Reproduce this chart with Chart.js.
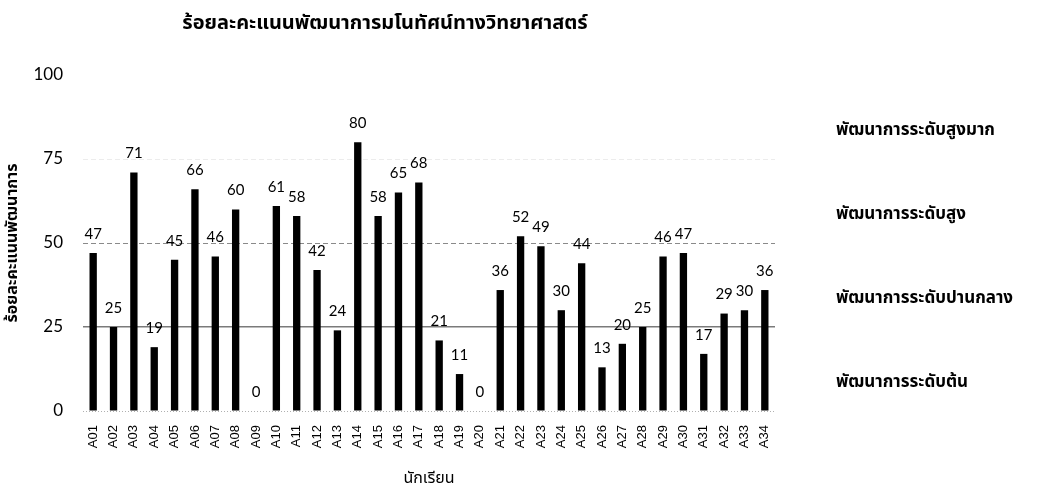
<!DOCTYPE html>
<html>
<head>
<meta charset="utf-8">
<script src="https://cdn.jsdelivr.net/npm/chart.js@4.4.1/dist/chart.umd.min.js"></script>
<style>
  html, body { margin: 0; padding: 0; background: #ffffff; }
  #wrap { width: 1043px; height: 490px; }
</style>
</head>
<body>
<div id="wrap"><canvas id="c" width="1043" height="490"></canvas></div>
<script>
// Students and their development scores (percent)
const students = ['A01','A02','A03','A04','A05','A06','A07','A08','A09','A10',
  'A11','A12','A13','A14','A15','A16','A17','A18','A19','A20',
  'A21','A22','A23','A24','A25','A26','A27','A28','A29','A30',
  'A31','A32','A33','A34'];
const scores = [47, 25, 71, 19, 45, 66, 46, 60, 0, 61,
  58, 42, 24, 80, 58, 65, 68, 21, 11, 0,
  36, 52, 49, 30, 44, 13, 20, 25, 46, 47,
  17, 29, 30, 36];

// Axis ticks and the development level bands (bounds and names)
const yTicks = [0, 25, 50, 75, 100];
const levelBounds = [0, 25, 50, 75, 100];
const levelNames = ['พัฒนาการระดับต้น', 'พัฒนาการระดับปานกลาง', 'พัฒนาการระดับสูง', 'พัฒนาการระดับสูงมาก'];

const chartTitle = 'ร้อยละคะแนนพัฒนาการมโนทัศน์ทางวิทยาศาสตร์';
const xTitle = 'นักเรียน';
const yTitle = 'ร้อยละคะแนนพัฒนาการ';

const thaiFont = "Tahoma, 'Noto Sans', 'Noto Sans Thai', sans-serif";
const numFont = "Lato, 'Open Sans', sans-serif";

// Value labels above each bar
const valueLabels = {
  id: 'valueLabels',
  afterDatasetsDraw(chart) {
    const ctx = chart.ctx;
    const meta = chart.getDatasetMeta(0);
    ctx.save();
    ctx.font = '15px ' + numFont;
    ctx.fillStyle = '#000';
    ctx.textAlign = 'center';
    ctx.textBaseline = 'middle';
    meta.data.forEach((bar, i) => {
      const { x, y } = bar.getProps(['x', 'y'], true);
      ctx.fillText(String(scores[i]), x, y - 19);
    });
    ctx.restore();
  }
};

// Chart heading
const heading = {
  id: 'heading',
  afterDraw(chart) {
    const ctx = chart.ctx;
    ctx.save();
    ctx.font = 'bold 20px ' + thaiFont;
    ctx.fillStyle = '#000';
    ctx.textAlign = 'center';
    ctx.textBaseline = 'middle';
    ctx.fillText(chartTitle, 385, 23);
    ctx.restore();
  }
};

function gridColor(v) {
  if (v === 25) return '#7a7a7a';
  if (v === 50) return '#8a8a8a';
  if (v === 75) return '#ececec';
  if (v === 0) return '#b0b0b0';
  return 'rgba(0,0,0,0)';
}
function gridDash(v) {
  if (v === 25) return [];
  if (v === 0) return [1, 2];
  return [5, 3];
}

new Chart(document.getElementById('c'), {
  type: 'bar',
  data: {
    labels: students,
    datasets: [{
      data: scores,
      backgroundColor: '#000',
      borderWidth: 0,
      barPercentage: 0.36,
      categoryPercentage: 1.0
    }]
  },
  options: {
    responsive: false,
    animation: false,
    layout: { padding: { top: 75, left: 0, right: 0, bottom: 0 } },
    plugins: {
      legend: { display: false },
      tooltip: { enabled: false },
      title: { display: false }
    },
    scales: {
      x: {
        grid: { display: false },
        border: { display: false },
        ticks: {
          color: '#000',
          font: { family: "'Liberation Sans', Arial, sans-serif", size: 13 },
          minRotation: 90,
          maxRotation: 90,
          padding: 6,
          autoSkip: false
        },
        title: {
          display: true,
          text: xTitle,
          color: '#000',
          font: { family: thaiFont, size: 16 },
          padding: { top: 0, bottom: 2 }
        },
        afterFit(s) { s.height = 79; }
      },
      y: {
        min: 0,
        max: 100,
        afterBuildTicks(s) { s.ticks = yTicks.map(v => ({ value: v })); },
        grid: {
          drawTicks: false,
          color: c => gridColor(c.tick ? c.tick.value : -1),
          lineWidth: c => (c.tick && c.tick.value === 25) ? 1.5 : 1
        },
        border: {
          display: false,
          dash: c => gridDash(c.tick ? c.tick.value : -1)
        },
        ticks: {
          color: '#000',
          font: { family: numFont, size: 17 },
          padding: 20
        },
        title: {
          display: true,
          text: yTitle,
          color: '#000',
          font: { family: thaiFont, size: 16, weight: 'bold' },
          padding: { top: 3, bottom: 0 }
        },
        afterFit(s) { s.width = 83; }
      },
      levels: {
        type: 'linear',
        position: 'right',
        min: 0,
        max: 100,
        afterBuildTicks(s) {
          s.ticks = levelNames.map((_, i) => ({ value: (levelBounds[i] + levelBounds[i + 1]) / 2 }));
        },
        grid: { display: false, drawTicks: false },
        border: { display: false },
        ticks: {
          color: '#000',
          font: { family: thaiFont, size: 17, weight: 'bold' },
          padding: 61,
          labelOffset: 13,
          callback(value, index) { return levelNames[index]; }
        },
        afterFit(s) { s.width = 268; }
      }
    }
  },
  plugins: [valueLabels, heading]
});
</script>
</body>
</html>
